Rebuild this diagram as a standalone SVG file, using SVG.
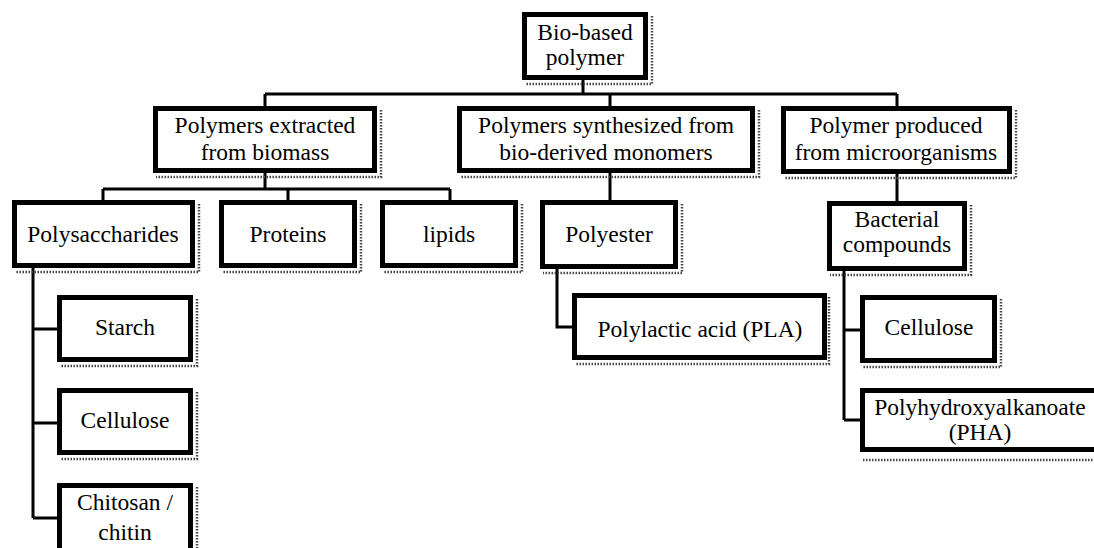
<svg xmlns="http://www.w3.org/2000/svg" width="1094" height="548" viewBox="0 0 1094 548">
<style>
.box{fill:#fff;stroke:#000;stroke-width:5}
.sh{fill:none;stroke:#444;stroke-width:2.5;stroke-dasharray:1.5 1.5}
.ln{fill:none;stroke:#000;stroke-width:3}
text{font-family:'Liberation Serif','Times New Roman',serif;font-size:23.5px;fill:#000;text-anchor:middle}
</style>
<rect width="1094" height="548" fill="#fff"/>
<g id="connectors">
<path class="ln" d="M583 80V94M265 94H897M265 94V106M610 94V106M897 94V106"/>
<path class="ln" d="M265 173V189M103 189H450M103 189V200M288 189V200M450 189V200"/>
<path class="ln" d="M610 173V200M897 174V201"/>
<path class="ln" d="M33 268V518M33 329H57M33 423H57M33 518H57"/>
<path class="ln" d="M557 269V327H572"/>
<path class="ln" d="M844 271V420M844 330H860M844 420H860"/>
</g>
<g id="n-root"><path class="sh" d="M652 16V84H526"/><rect class="box" x="524.5" y="14.5" width="121" height="63"/><text x="585" y="40">Bio-based</text><text x="585" y="65">polymer</text></g>
<g id="n-extracted"><path class="sh" d="M381 110V177H156"/><rect class="box" x="155.5" y="108.5" width="219" height="62"/><text x="265" y="133">Polymers extracted</text><text x="265" y="160">from biomass</text></g>
<g id="n-synth"><path class="sh" d="M759 110V177H460"/><rect class="box" x="459.5" y="108.5" width="293" height="62"/><text x="606" y="133">Polymers synthesized from</text><text x="606" y="160">bio-derived monomers</text></g>
<g id="n-micro"><path class="sh" d="M1016 110V178H784"/><rect class="box" x="783.5" y="108.5" width="226" height="63"/><text x="896" y="133">Polymer produced</text><text x="896" y="160">from microorganisms</text></g>
<g id="n-polysacch"><path class="sh" d="M199 204V272H15"/><rect class="box" x="14.5" y="202.5" width="178" height="63"/><text x="103" y="242">Polysaccharides</text></g>
<g id="n-proteins"><path class="sh" d="M361 204V272H222"/><rect class="box" x="221.5" y="202.5" width="133" height="63"/><text x="288" y="242">Proteins</text></g>
<g id="n-lipids"><path class="sh" d="M522 204V272H383"/><rect class="box" x="382.5" y="202.5" width="133" height="63"/><text x="449" y="242">lipids</text></g>
<g id="n-polyester"><path class="sh" d="M682 204V273H543"/><rect class="box" x="542.5" y="202.5" width="133" height="64"/><text x="609" y="242">Polyester</text></g>
<g id="n-bacterial"><path class="sh" d="M971 205V275H830"/><rect class="box" x="829.5" y="203.5" width="135" height="65"/><text x="897" y="227">Bacterial</text><text x="897" y="252">compounds</text></g>
<g id="n-starch"><path class="sh" d="M197 299V366H60"/><rect class="box" x="59.5" y="297.5" width="131" height="62"/><text x="125" y="335">Starch</text></g>
<g id="n-cellulose1"><path class="sh" d="M197 392V459H60"/><rect class="box" x="59.5" y="390.5" width="131" height="62"/><text x="125" y="428">Cellulose</text></g>
<g id="n-chitosan"><path class="sh" d="M197 487V560"/><rect class="box" x="59.5" y="485.5" width="131" height="80"/><text x="125" y="510">Chitosan /</text><text x="125" y="540">chitin</text></g>
<g id="n-pla"><path class="sh" d="M829 297V364H575"/><rect class="box" x="574.5" y="295.5" width="250" height="62"/><text x="700" y="337">Polylactic acid (PLA)</text></g>
<g id="n-cellulose2"><path class="sh" d="M1001 299V367H863"/><rect class="box" x="862.5" y="297.5" width="132" height="63"/><text x="929" y="335">Cellulose</text></g>
<g id="n-pha"><path class="sh" d="M863 460H1100"/><rect class="box" x="862.5" y="390.5" width="240" height="59"/><text x="980" y="415">Polyhydroxyalkanoate</text><text x="980" y="440">(PHA)</text></g>
</svg>
